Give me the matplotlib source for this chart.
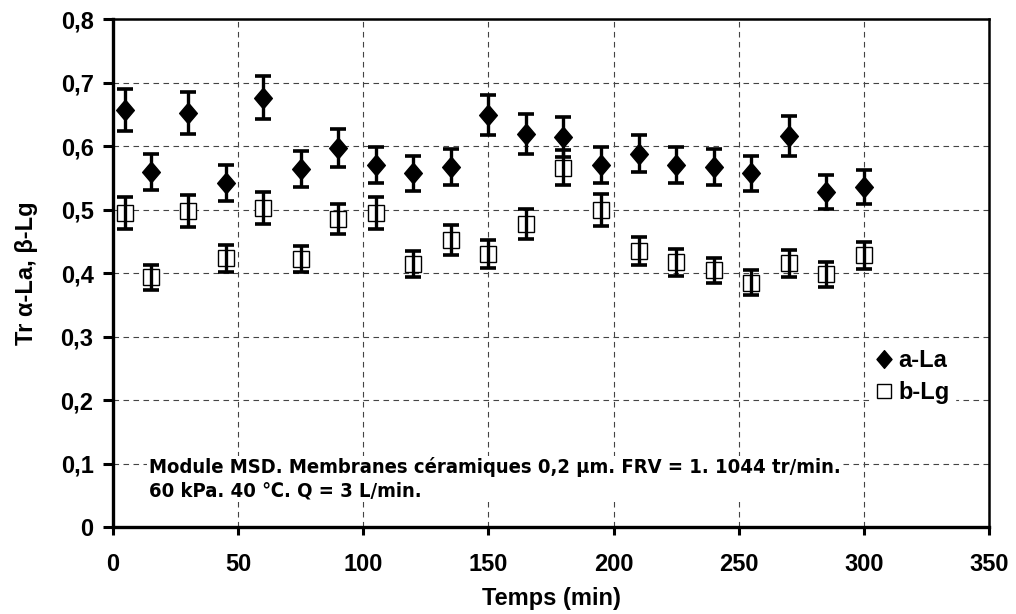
import numpy as np
import matplotlib.pyplot as plt
from matplotlib.path import Path

# temps (min)
temps = [5, 15, 30, 45, 60, 75, 90, 105, 120, 135, 150, 165, 180, 195,
         210, 225, 240, 255, 270, 285, 300]

# Tr alpha-La
tr_ala = [0.657, 0.559, 0.652, 0.542, 0.676, 0.564, 0.597, 0.570, 0.557, 0.567, 0.649,
          0.619, 0.614, 0.570, 0.588, 0.570, 0.567, 0.557, 0.616, 0.528, 0.536]
err_ala = [0.033, 0.028, 0.033, 0.028, 0.034, 0.028, 0.030, 0.028, 0.028, 0.028, 0.032,
           0.031, 0.031, 0.028, 0.029, 0.028, 0.028, 0.028, 0.031, 0.027, 0.027]

# Tr beta-Lg
tr_blg = [0.494, 0.393, 0.498, 0.423, 0.502, 0.422, 0.485, 0.494, 0.414, 0.452, 0.430,
          0.477, 0.566, 0.499, 0.434, 0.417, 0.404, 0.385, 0.415, 0.398, 0.428]
err_blg = [0.025, 0.020, 0.025, 0.021, 0.025, 0.021, 0.024, 0.025, 0.021, 0.023, 0.022,
           0.024, 0.028, 0.025, 0.022, 0.021, 0.020, 0.019, 0.021, 0.020, 0.021]

xticks = [0, 50, 100, 150, 200, 250, 300, 350]
yticks = [0, 0.1, 0.2, 0.3, 0.4, 0.5, 0.6, 0.7, 0.8]
ytick_labels = ['0', '0,1', '0,2', '0,3', '0,4', '0,5', '0,6', '0,7', '0,8']

note = ("Module MSD. Membranes céramiques 0,2 µm. FRV = 1. 1044 tr/min.\n"
        "60 kPa. 40 \u2103. Q = 3 L/min.")

plt.rcParams['font.family'] = ['Liberation Sans', 'DejaVu Sans']
plt.rcParams['font.weight'] = 'bold'

fig = plt.figure(figsize=(10.16, 6.14), dpi=100)
ax = fig.add_axes([0.1112, 0.1417, 0.8622, 0.8273])

# diamond a bit taller than wide, like excel
diamond = Path([(0, 1), (0.85, 0), (0, -1), (-0.85, 0), (0, 1)],
               [Path.MOVETO, Path.LINETO, Path.LINETO, Path.LINETO, Path.CLOSEPOLY])

h1, = ax.plot(temps, tr_ala, linestyle='none', marker=diamond, markersize=15,
              color='black', zorder=3, label='a-La')
h2, = ax.plot(temps, tr_blg, linestyle='none', marker='s', markersize=12,
              markerfacecolor='white', markeredgecolor='black', markeredgewidth=1.0,
              zorder=3, label='b-Lg')
for yv, ev in [(tr_ala, err_ala), (tr_blg, err_blg)]:
    eb = ax.errorbar(temps, yv, yerr=ev, fmt='none', ecolor='black', elinewidth=2.4,
                     capsize=6, capthick=2.6, zorder=4)

ax.set_xlim(0, 350)
ax.set_ylim(0, 0.8)
ax.set_xticks(xticks)
ax.set_yticks(yticks)
ax.set_yticklabels(ytick_labels)
ax.grid(True, color='#444444', linestyle=(0, (5, 4)), linewidth=0.8)
ax.set_axisbelow(True)

for s in ['left', 'bottom']:
    ax.spines[s].set_linewidth(2.4)
for s in ['top', 'right']:
    ax.spines[s].set_linewidth(1.8)

ax.tick_params(axis='both', labelsize=17, width=2.2, direction='out', color='black')
ax.tick_params(axis='y', length=7, pad=7)
ax.tick_params(axis='x', length=6, pad=13)
for lab in ax.get_xticklabels() + ax.get_yticklabels():
    lab.set_fontweight('bold')

ax.set_xlabel('Temps (min)', fontsize=17, fontweight='bold', labelpad=8)
ax.set_ylabel('Tr α-La, β-Lg', fontsize=17, fontweight='bold', labelpad=16)

ax.text(14.2, 0.076, note, fontsize=14.5, fontweight='bold', fontstretch='condensed',
        va='center', ha='left', family='DejaVu Sans', linespacing=1.3,
        bbox=dict(facecolor='white', edgecolor='none', pad=1), zorder=5)

leg = ax.legend(handles=[h1, h2], loc='upper left', bbox_to_anchor=(0.851, 0.383),
                frameon=True, fancybox=False, framealpha=1, edgecolor='white',
                prop=dict(size=17, weight='bold'), handlelength=0.8, handletextpad=0.2,
                labelspacing=0.4, borderpad=0.2, markerscale=0.85)

fig.savefig('out.png', dpi=100)
